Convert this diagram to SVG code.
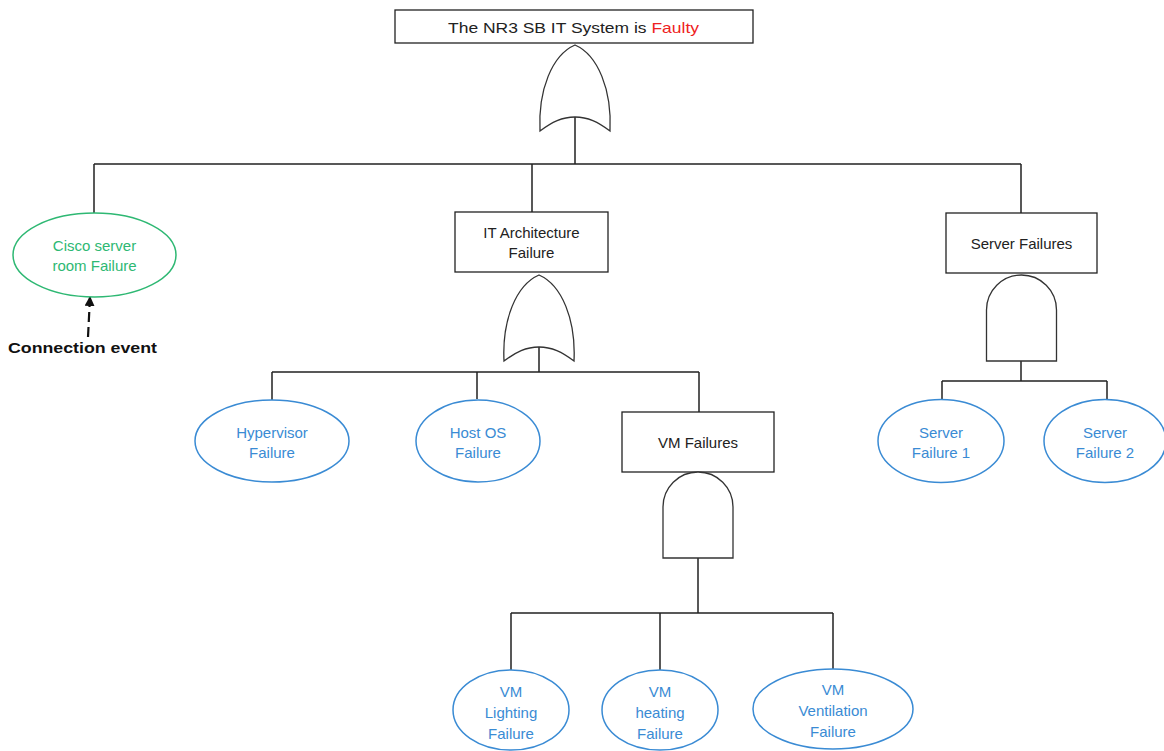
<svg xmlns="http://www.w3.org/2000/svg" xmlns:xlink="http://www.w3.org/1999/xlink" width="1164" height="751" viewBox="0 0 1164 751">
<style>
  .box { fill: #ffffff; stroke: #222222; stroke-width: 1.3; }
  .gate { fill: #ffffff; stroke: #333333; stroke-width: 1.3; }
  .blue { fill: #ffffff; stroke: #3a8bd4; stroke-width: 1.5; }
  .green { fill: #ffffff; stroke: #2eb873; stroke-width: 1.5; }
  .conn { fill: none; stroke: #222222; stroke-width: 1.5; }
  text { font-family: "Liberation Sans", Arial, sans-serif; font-size: 15px; text-anchor: middle; dominant-baseline: central; }
  .t-black { fill: #222222; }
  .t-blue { fill: #3a8bd4; }
  .t-green { fill: #2eb873; }
</style>
<defs>
  <path id="orGate" d="M-35,86 C-37,45 -23,10 0,0 C23,10 37,45 35,86 C23,77 13,72 0,72 C-13,72 -23,77 -35,86 Z"/>
  <path id="andGate" d="M-35,86 L-35,35 A35,35 0 0 1 35,35 L35,86 Z"/>
  <marker id="arrow" viewBox="0 0 10 10" refX="9" refY="5" markerWidth="10" markerHeight="10" markerUnits="userSpaceOnUse" orient="auto">
    <path d="M0,0 L10,5 L0,10 Z" fill="#111111"/>
  </marker>
</defs>
<rect width="1164" height="751" fill="#ffffff"/>

<g id="connectors">
  <path class="conn" d="M575,117 V164 M94,164 H1021 M94,164 V213 M532,164 V212 M1021,164 V213"/>
  <path class="conn" d="M539,346 V372 M272,372 H699 M272,372 V400 M477,372 V399 M699,372 V412"/>
  <path class="conn" d="M698,558 V613 M511,613 H833 M511,613 V670 M660,613 V670 M833,613 V669"/>
  <path class="conn" d="M1021,361 V381 M942,381 H1107 M942,381 V400 M1107,381 V400"/>
  <path d="M88,337 L90,297" fill="none" stroke="#111111" stroke-width="2.2" stroke-dasharray="10,5" marker-end="url(#arrow)"/>
</g>

<g id="top-event">
  <rect class="box" x="395" y="10" width="358" height="33"/>
  <text x="573.5" y="27" font-size="18" textLength="251" lengthAdjust="spacingAndGlyphs" class="t-black">The NR3 SB IT System is <tspan fill="#ee2222">Faulty</tspan></text>
</g>
<g id="gate-top-or">
  <use xlink:href="#orGate" class="gate" x="575" y="45"/>
</g>

<g id="cisco">
  <ellipse class="green" cx="94.5" cy="255" rx="81.5" ry="42"/>
  <text x="94.5" y="245" class="t-green">Cisco server</text>
  <text x="94.5" y="265" class="t-green">room Failure</text>
</g>
<g id="connection-event-label">
  <text x="82.5" y="347" font-size="17" font-weight="bold" fill="#111111" textLength="149" lengthAdjust="spacingAndGlyphs">Connection event</text>
</g>

<g id="it-architecture">
  <rect class="box" x="455" y="212" width="153" height="60"/>
  <text x="531.5" y="232" class="t-black">IT Architecture</text>
  <text x="531.5" y="252" class="t-black">Failure</text>
</g>
<g id="gate-it-or">
  <use xlink:href="#orGate" class="gate" x="539" y="275"/>
</g>

<g id="hypervisor">
  <ellipse class="blue" cx="272" cy="441" rx="77" ry="41"/>
  <text x="272" y="432" class="t-blue">Hypervisor</text>
  <text x="272" y="452" class="t-blue">Failure</text>
</g>
<g id="host-os">
  <ellipse class="blue" cx="478" cy="441" rx="62" ry="41"/>
  <text x="478" y="432" class="t-blue">Host OS</text>
  <text x="478" y="452" class="t-blue">Failure</text>
</g>

<g id="vm-failures">
  <rect class="box" x="622" y="412" width="152" height="60"/>
  <text x="698" y="442" class="t-black">VM Failures</text>
</g>
<g id="gate-vm-and">
  <use xlink:href="#andGate" class="gate" x="698" y="472"/>
</g>

<g id="vm-lighting">
  <ellipse class="blue" cx="511" cy="710" rx="58" ry="40"/>
  <text x="511" y="691" class="t-blue">VM</text>
  <text x="511" y="712" class="t-blue">Lighting</text>
  <text x="511" y="733" class="t-blue">Failure</text>
</g>
<g id="vm-heating">
  <ellipse class="blue" cx="660" cy="710" rx="58" ry="40"/>
  <text x="660" y="691" class="t-blue">VM</text>
  <text x="660" y="712" class="t-blue">heating</text>
  <text x="660" y="733" class="t-blue">Failure</text>
</g>
<g id="vm-ventilation">
  <ellipse class="blue" cx="833" cy="709" rx="80" ry="40"/>
  <text x="833" y="689" class="t-blue">VM</text>
  <text x="833" y="710" class="t-blue">Ventilation</text>
  <text x="833" y="731" class="t-blue">Failure</text>
</g>

<g id="server-failures">
  <rect class="box" x="946" y="213" width="151" height="60"/>
  <text x="1021.5" y="243" class="t-black">Server Failures</text>
</g>
<g id="gate-server-and">
  <use xlink:href="#andGate" class="gate" x="1021.5" y="275"/>
</g>

<g id="server-failure-1">
  <ellipse class="blue" cx="941" cy="441" rx="63" ry="41.5"/>
  <text x="941" y="432" class="t-blue">Server</text>
  <text x="941" y="452" class="t-blue">Failure 1</text>
</g>
<g id="server-failure-2">
  <ellipse class="blue" cx="1105" cy="441" rx="61" ry="41.5"/>
  <text x="1105" y="432" class="t-blue">Server</text>
  <text x="1105" y="452" class="t-blue">Failure 2</text>
</g>
</svg>
